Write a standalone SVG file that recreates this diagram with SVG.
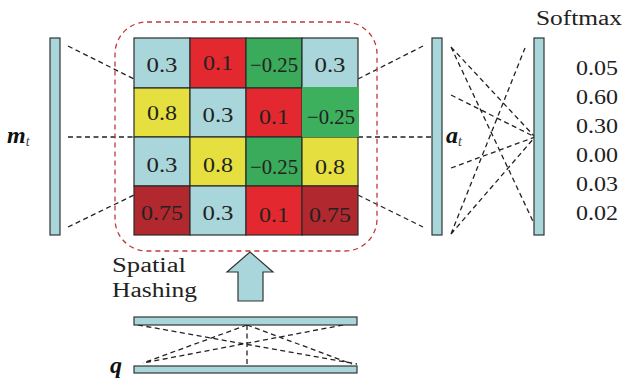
<svg xmlns="http://www.w3.org/2000/svg" width="623" height="378" viewBox="0 0 623 378">
<style>
.bar{fill:#a9d6db;stroke:#333;stroke-width:1.2}
.c{stroke:#2a2a2a;stroke-width:1.2}
.lb{fill:#a9d6db}.rd{fill:#e3292f}.gr{fill:#3aab5b}.ye{fill:#e5e03f}.dr{fill:#b2282f}
.t{font-family:"Liberation Serif",serif;font-size:21px;fill:#222;text-anchor:middle}
.n{font-family:"Liberation Serif",serif;font-size:20px;fill:#222}
.d{fill:none;stroke:#222;stroke-width:1.3;stroke-dasharray:5 3.5}
.m{font-family:"Liberation Serif",serif;font-weight:bold;font-style:italic;font-size:24px;fill:#111}
.s{font-family:"Liberation Serif",serif;font-style:italic;font-size:14px;font-weight:normal;fill:#444}
</style>
<rect width="623" height="378" fill="#fff"/>
<g id="connectors">
<path class="d" d="M68,46 L134,79 M68,137 L134,137 M68,227 L134,195"/>
<path class="d" d="M358,79 L423,46 M358,137 L431,137 M358,195 L423,227"/>
<path class="d" d="M451,47 L535,137 M451,47 L538,232 M451,95 L535,137 M451,168 L535,137 M451,234 L525,48 M451,234 L535,137"/>
<path class="d" d="M138,325 L357,364 M343,325 L143,363 M247,325 L143,363 M247,325 L352,364 M247,325 L247,366"/>
</g>
<g id="hash-region">
<rect x="115" y="22" width="262" height="229" rx="32" fill="none" stroke="#c0393b" stroke-width="1.3" stroke-dasharray="5 4"/>
</g>
<g id="grid">
<rect class="c lb" x="134" y="38" width="56" height="50"/>
<rect class="c rd" x="190" y="38" width="56" height="50"/>
<rect class="c gr" x="246" y="38" width="56" height="50"/>
<rect class="c lb" x="302" y="38" width="56" height="50"/>
<rect class="c ye" x="134" y="88" width="56" height="49"/>
<rect class="c lb" x="190" y="88" width="56" height="49"/>
<rect class="c rd" x="246" y="88" width="56" height="49"/>
<rect class="c lb" x="134" y="137" width="56" height="49"/>
<rect class="c ye" x="190" y="137" width="56" height="49"/>
<rect class="c gr" x="246" y="137" width="56" height="49"/>
<rect class="c ye" x="302" y="137" width="56" height="49"/>
<rect class="c dr" x="134" y="186" width="56" height="49"/>
<rect class="c lb" x="190" y="186" width="56" height="49"/>
<rect class="c rd" x="246" y="186" width="56" height="49"/>
<rect class="c dr" x="302" y="186" width="56" height="49"/>
<rect x="302" y="87" width="57" height="50" fill="#3db05e"/>
<text class="t" x="162" y="72" textLength="31" lengthAdjust="spacingAndGlyphs">0.3</text>
<text class="t" x="218" y="70" textLength="30" lengthAdjust="spacingAndGlyphs">0.1</text>
<text class="t" x="274" y="72" textLength="48" lengthAdjust="spacingAndGlyphs">−0.25</text>
<text class="t" x="330" y="72" textLength="31" lengthAdjust="spacingAndGlyphs">0.3</text>
<text class="t" x="162" y="120" textLength="30" lengthAdjust="spacingAndGlyphs">0.8</text>
<text class="t" x="218" y="122" textLength="31" lengthAdjust="spacingAndGlyphs">0.3</text>
<text class="t" x="274" y="124" textLength="30" lengthAdjust="spacingAndGlyphs">0.1</text>
<text class="t" x="331" y="124" textLength="48" lengthAdjust="spacingAndGlyphs">−0.25</text>
<text class="t" x="162" y="172" textLength="31" lengthAdjust="spacingAndGlyphs">0.3</text>
<text class="t" x="218" y="172" textLength="30" lengthAdjust="spacingAndGlyphs">0.8</text>
<text class="t" x="274" y="174" textLength="48" lengthAdjust="spacingAndGlyphs">−0.25</text>
<text class="t" x="330" y="174" textLength="30" lengthAdjust="spacingAndGlyphs">0.8</text>
<text class="t" x="162" y="220" textLength="42" lengthAdjust="spacingAndGlyphs">0.75</text>
<text class="t" x="218" y="220" textLength="31" lengthAdjust="spacingAndGlyphs">0.3</text>
<text class="t" x="274" y="222" textLength="30" lengthAdjust="spacingAndGlyphs">0.1</text>
<text class="t" x="330" y="222" textLength="42" lengthAdjust="spacingAndGlyphs">0.75</text>
</g>
<g id="m_t">
<rect class="bar" x="50" y="38" width="10" height="197"/>
<text class="m" x="7" y="143">m<tspan class="s" dy="3">t</tspan></text>
</g>
<g id="a_t">
<rect class="bar" x="432" y="38" width="10" height="197"/>
<text class="m" x="446" y="143">a<tspan class="s" dy="3">t</tspan></text>
</g>
<g id="softmax">
<rect class="bar" x="534" y="38" width="10" height="197"/>
<text class="n" x="536" y="25" textLength="86" lengthAdjust="spacingAndGlyphs">Softmax</text>
<text class="n" x="576" y="75" textLength="42" lengthAdjust="spacingAndGlyphs">0.05</text>
<text class="n" x="576" y="104" textLength="42" lengthAdjust="spacingAndGlyphs">0.60</text>
<text class="n" x="576" y="133" textLength="42" lengthAdjust="spacingAndGlyphs">0.30</text>
<text class="n" x="576" y="162" textLength="42" lengthAdjust="spacingAndGlyphs">0.00</text>
<text class="n" x="576" y="191" textLength="42" lengthAdjust="spacingAndGlyphs">0.03</text>
<text class="n" x="576" y="220" textLength="42" lengthAdjust="spacingAndGlyphs">0.02</text>
</g>
<g id="spatial-hashing">
<polygon points="250,252 273,272 263,272 263,301 238,301 238,272 227,272" fill="#a9d6db" stroke="#333" stroke-width="1.2"/>
<text class="n" x="112" y="272" font-size="21" textLength="74" lengthAdjust="spacingAndGlyphs">Spatial</text>
<text class="n" x="112" y="297" font-size="21" textLength="85" lengthAdjust="spacingAndGlyphs">Hashing</text>
</g>
<g id="q">
<rect class="bar" x="134" y="317" width="223" height="8"/>
<rect class="bar" x="134" y="366" width="223" height="7"/>
<text class="m" x="110" y="373">q</text>
</g>
</svg>
